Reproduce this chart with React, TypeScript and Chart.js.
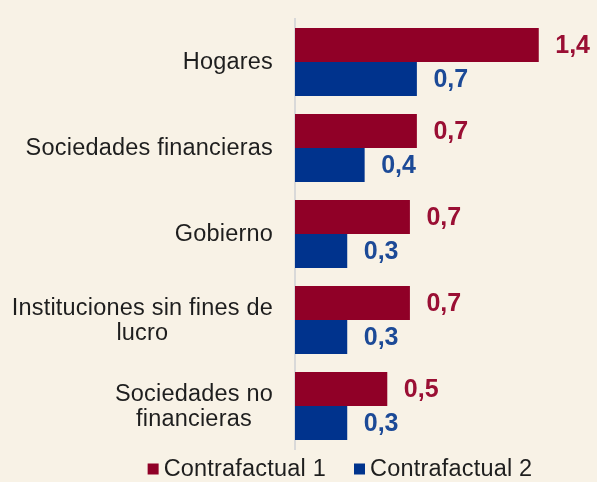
import React, { useEffect, useRef } from "react";
import { Chart, registerables } from "chart.js";

Chart.register(...registerables);

const categories: string[][] = [
  ["Hogares"],
  ["Sociedades financieras"],
  ["Gobierno"],
  ["Instituciones sin fines de", "lucro"],
  ["Sociedades no", "financieras"],
];
const seriesNames = ["Contrafactual 1", "Contrafactual 2"];
const contrafactual1 = [1.4, 0.7, 0.66, 0.66, 0.53];
const contrafactual2 = [0.7, 0.4, 0.3, 0.3, 0.3];

const RED = "#900027";
const BLUE = "#00338d";
const RED_TEXT = "#9a0f34";
const BLUE_TEXT = "#1c4a97";
const BG = "#f8f2e6";
const FONT = "'Liberation Sans', Arial, sans-serif";
const TEXT = "#1e1e1e";

const fmt = (v: number) => v.toFixed(1).replace(".", ",");

const bgPlugin = {
  id: "bg",
  beforeDraw(chart: any) {
    const { ctx, width, height } = chart;
    ctx.save();
    ctx.fillStyle = BG;
    ctx.fillRect(0, 0, width, height);
    ctx.restore();
  },
};

const catLabelPlugin = {
  id: "catLabels",
  afterDraw(chart: any) {
    const { ctx } = chart;
    const yScale = chart.scales.y;
    const right = 273;
    const lh = 25;
    ctx.save();
    ctx.font = `23.5px ${FONT}`;
    (ctx as any).letterSpacing = "0.2px";
    ctx.fillStyle = TEXT;
    ctx.textBaseline = "middle";
    ctx.textAlign = "center";
    categories.forEach((lines, i) => {
      const cy = yScale.getPixelForValue(i);
      const w = Math.max(...lines.map((l) => ctx.measureText(l).width));
      const cx = right - w / 2;
      const y0 = cy - ((lines.length - 1) * lh) / 2;
      lines.forEach((l, j) => ctx.fillText(l, cx, y0 + j * lh + 1));
    });
    ctx.restore();
  },
};

const valueLabelPlugin = {
  id: "valueLabels",
  afterDatasetsDraw(chart: any) {
    const { ctx } = chart;
    ctx.save();
    ctx.font = `bold 25px ${FONT}`;
    ctx.textBaseline = "middle";
    ctx.textAlign = "left";
    chart.data.datasets.forEach((ds: any, di: number) => {
      const meta = chart.getDatasetMeta(di);
      ctx.fillStyle = di === 0 ? RED_TEXT : BLUE_TEXT;
      meta.data.forEach((bar: any, i: number) => {
        ctx.fillText(fmt(ds.data[i]), bar.x + 16.5, bar.y + 1);
      });
    });
    ctx.restore();
  },
};

const legendPlugin = {
  id: "customLegend",
  afterDraw(chart: any) {
    const { ctx } = chart;
    const colors = [RED, BLUE];
    const box = 11;
    const gapBoxText = 5;
    const gapItems = 28;
    const cy = 469;
    ctx.save();
    ctx.font = `23.5px ${FONT}`;
    (ctx as any).letterSpacing = "0.2px";
    const widths = seriesNames.map((n) => ctx.measureText(n).width);
    const total =
      widths.reduce((a, w) => a + box + gapBoxText + w, 0) + gapItems * (seriesNames.length - 1);
    let x = 340 - total / 2;
    ctx.textBaseline = "middle";
    ctx.textAlign = "left";
    seriesNames.forEach((n, i) => {
      ctx.fillStyle = colors[i];
      ctx.fillRect(x, cy - box / 2, box, box);
      x += box + gapBoxText;
      ctx.fillStyle = TEXT;
      ctx.fillText(n, x, cy + 1);
      x += widths[i] + gapItems;
    });
    ctx.restore();
  },
};

export default function App() {
  const ref = useRef<HTMLCanvasElement | null>(null);
  useEffect(() => {
    if (!ref.current) return;
    const chart = new Chart(ref.current, {
      type: "bar",
      data: {
        labels: categories.map((c) => c.join(" ")),
        datasets: [
          { label: seriesNames[0], data: contrafactual1, backgroundColor: RED, borderWidth: 0 },
          { label: seriesNames[1], data: contrafactual2, backgroundColor: BLUE, borderWidth: 0 },
        ],
      },
      options: {
        indexAxis: "y",
        responsive: false,
        animation: false,
        devicePixelRatio: 1,
        layout: { padding: { left: 0, right: 6, top: 19, bottom: 33 } },
        datasets: { bar: { categoryPercentage: 0.79, barPercentage: 1.0 } },
        scales: {
          x: { display: false, min: 0, max: 1.7 },
          y: {
            display: true,
            ticks: { display: false },
            grid: { display: false },
            border: { display: true, color: "#d9d9d9", width: 2 },
            afterFit: (scale: any) => {
              scale.width = 295;
            },
          },
        },
        plugins: {
          legend: { display: false },
          tooltip: { enabled: false },
        },
      },
      plugins: [bgPlugin, catLabelPlugin, valueLabelPlugin, legendPlugin],
    } as any);
    return () => chart.destroy();
  }, []);
  return (
    <div style={{ position: "absolute", left: 0, top: 0, width: 597, height: 482, background: BG }}>
      <canvas ref={ref} width={597} height={482} />
    </div>
  );
}
